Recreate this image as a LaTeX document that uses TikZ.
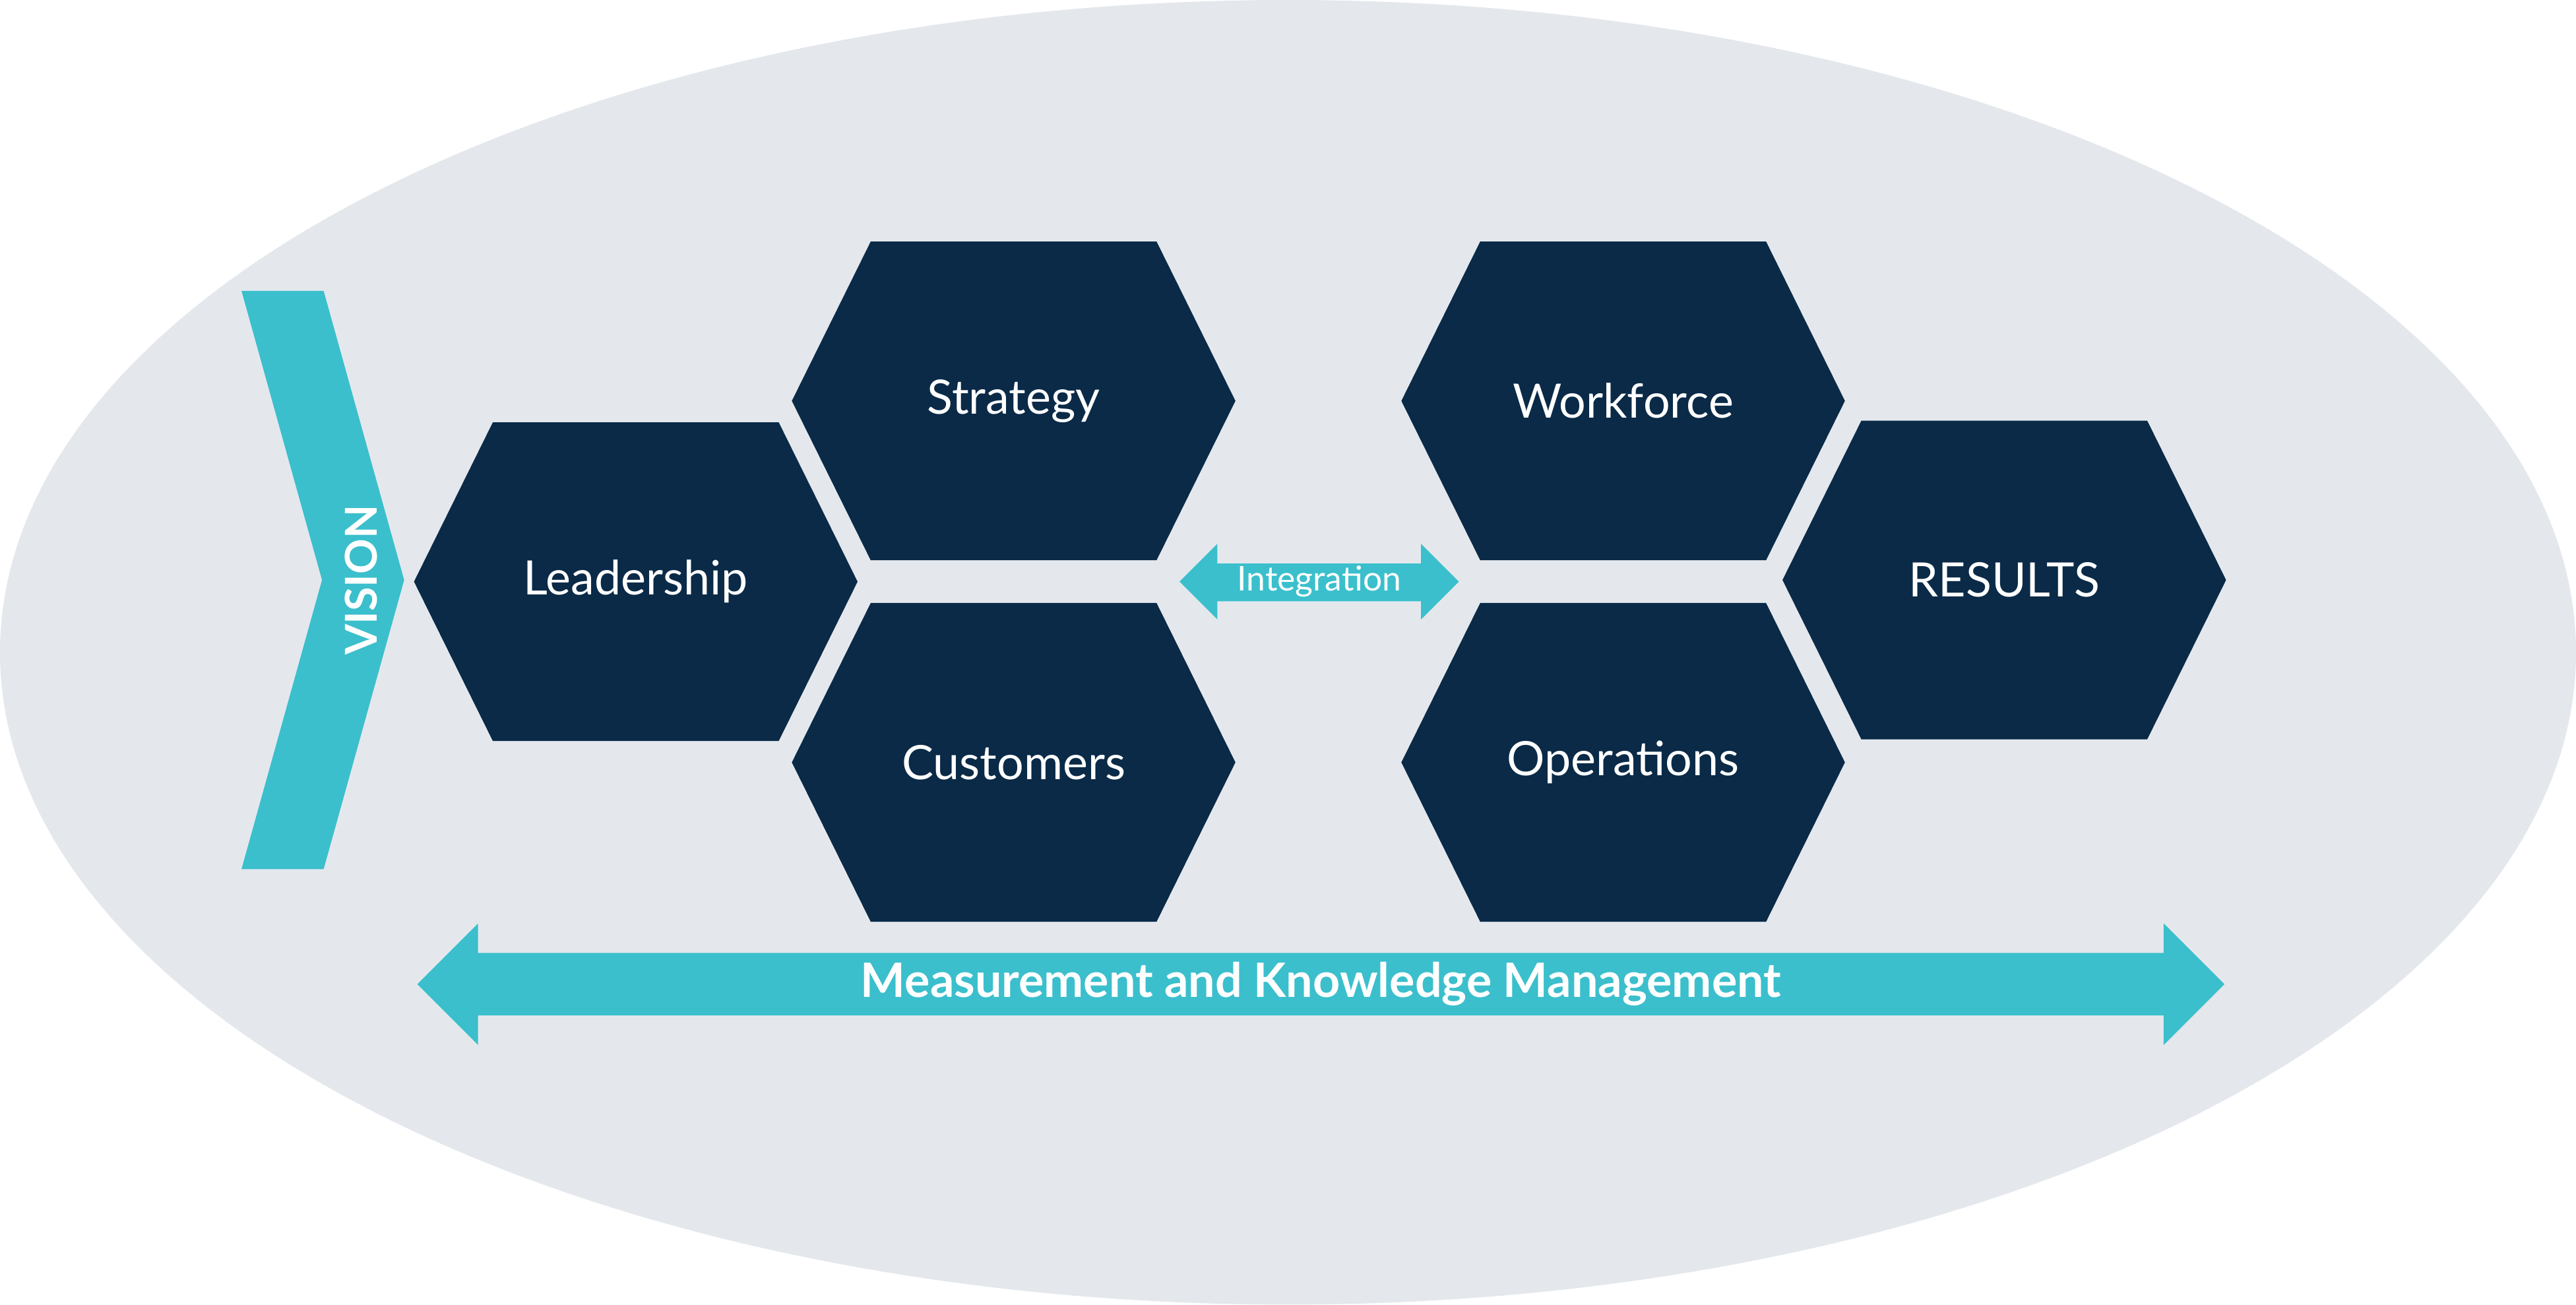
\documentclass[tikz,border=0pt]{standalone}
\usepackage{fontspec}
\setmainfont{Lato}
\definecolor{navy}{HTML}{0A2A47}
\definecolor{teal}{HTML}{3BBFCC}
\definecolor{bg}{HTML}{E4E8ED}
\begin{document}
\begin{tikzpicture}[x=0.01cm,y=-0.01cm,
  lbl/.style={text=white,font=\fontsize{8.2}{10}\selectfont},
  hexa/.style={fill=navy}]
\useasboundingbox (0,0) rectangle (1568,794);
\fill[bg] (784,397) ellipse [x radius=784, y radius=397];
\newcommand\hx[3]{%
  \fill[hexa] (#1-135,#2) -- (#1-87,#2-97) -- (#1+87,#2-97) -- (#1+135,#2) -- (#1+87,#2+97) -- (#1-87,#2+97) -- cycle;
  \node[lbl] (#3) at (#1,#2) {#3};}
\hx{387}{354}{Leadership}
\hx{617}{244}{Strategy}
\hx{617}{464}{Customers}
\hx{988}{244}{Workforce}
\hx{988}{464}{Operations}
\hx{1220}{353}{RESULTS}
% vision chevron
\fill[teal] (147,177) -- (197,177) -- (246,353) -- (197,529) -- (147,529) -- (196,353) -- cycle;
\node[text=white,font=\fontsize{7.6}{9}\selectfont\bfseries,rotate=90] (vision) at (220,353) {VISION};
% integration arrow
\fill[teal] (718,354) -- (741,331) -- (741,343) -- (865,343) -- (865,331) -- (888,354) -- (865,377) -- (865,366) -- (741,366) -- (741,377) -- cycle;
\node[text=white,font=\fontsize{5.9}{7}\selectfont] (integ) at (803,354) {Integration};
% measurement arrow
\fill[teal] (254,599) -- (291,562) -- (291,580) -- (1317,580) -- (1317,562) -- (1354,599) -- (1317,636) -- (1317,618) -- (291,618) -- (291,636) -- cycle;
\node[text=white,font=\fontsize{8.2}{10}\selectfont\bfseries] (meas) at (804,599) {Measurement and Knowledge Management};
\end{tikzpicture}
\end{document}
